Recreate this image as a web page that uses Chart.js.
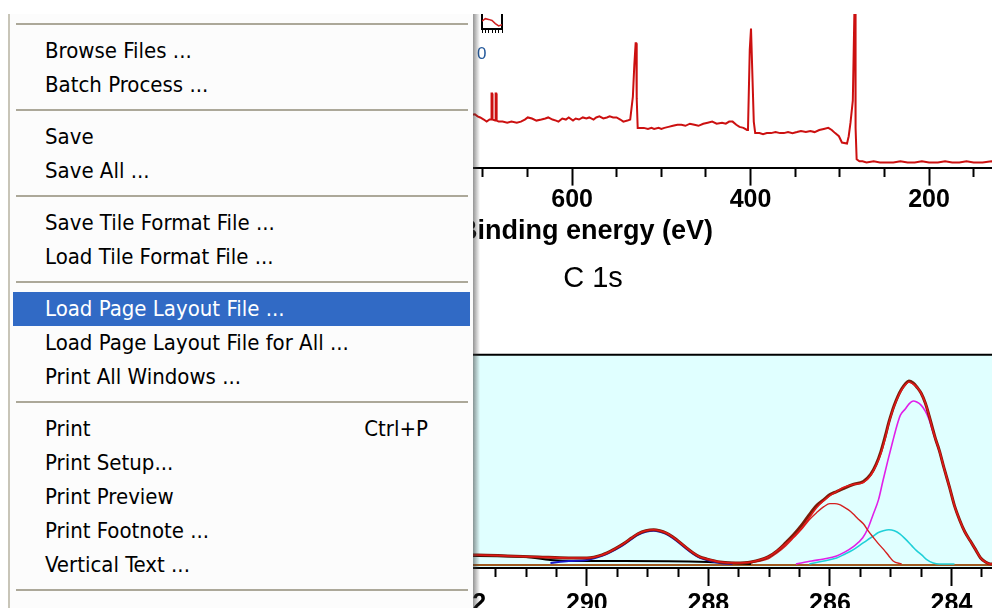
<!DOCTYPE html>
<html>
<head>
<meta charset="utf-8">
<title>XPS survey and C 1s</title>
<script src="https://cdn.jsdelivr.net/npm/chart.js@4.4.1/dist/chart.umd.min.js"></script>
<style>
  html, body { margin: 0; padding: 0; background: #fff; }
  body { width: 992px; height: 608px; overflow: hidden; position: relative; font-family: "Liberation Sans", Arial, sans-serif; }
  .box { position: absolute; }
  #surveyBox { left: 126px; top: 14px; width: 919px; height: 238px; }
  #c1sBox { left: 189px; top: 252px; width: 808px; height: 370px; }
  #insetBox { left: 474px; top: 14px; width: 36px; height: 19px; }
  #insetZero { position: absolute; left: 477px; top: 44px; font-size: 17px; color: #23589a; }
  #menu { position: absolute; left: 8px; top: 14px; width: 463px; height: 620px; background: #fcfcfc;
          border-left: 2px solid #c8c5b8; padding-top: 2px; z-index: 5;
          font-family: "DejaVu Sans Condensed", "DejaVu Sans", sans-serif; font-stretch: condensed; font-size: 22px; color: #000; }
  #menuShadow { position: absolute; left: 473px; top: 14px; width: 7px; height: 620px; z-index: 5;
                background: linear-gradient(to right, rgba(60,60,60,.55), rgba(60,60,60,0)); }
  .item { height: 34px; line-height: 34px; padding-left: 35px; padding-right: 45px; white-space: nowrap;
          display: flex; justify-content: space-between; }
  .item.hot { background: #316ac5; color: #fff; margin-left: 3px; margin-right: 3px; padding-left: 32px; }
  .sep { height: 18px; position: relative; }
  .sep::after { content: ""; position: absolute; left: 6px; right: 5px; top: 7px; height: 2px; background: #aca899; }
</style>
</head>
<body>

<div class="box" id="surveyBox"><canvas id="survey"></canvas></div>
<div class="box" id="c1sBox"><canvas id="c1s"></canvas></div>
<div class="box" id="insetBox"><canvas id="inset"></canvas></div>
<div id="insetZero">0</div>

<div id="menu">
  <div class="sep"></div>
  <div class="item"><span>Browse Files ...</span></div>
  <div class="item"><span>Batch Process ...</span></div>
  <div class="sep"></div>
  <div class="item"><span>Save</span></div>
  <div class="item"><span>Save All ...</span></div>
  <div class="sep"></div>
  <div class="item"><span>Save Tile Format File ...</span></div>
  <div class="item"><span>Load Tile Format File ...</span></div>
  <div class="sep"></div>
  <div class="item hot"><span>Load Page Layout File ...</span></div>
  <div class="item"><span>Load Page Layout File for All ...</span></div>
  <div class="item"><span>Print All Windows ...</span></div>
  <div class="sep"></div>
  <div class="item"><span>Print</span><span>Ctrl+P</span></div>
  <div class="item"><span>Print Setup...</span></div>
  <div class="item"><span>Print Preview</span></div>
  <div class="item"><span>Print Footnote ...</span></div>
  <div class="item"><span>Vertical Text ...</span></div>
  <div class="sep"></div>
</div>
<div id="menuShadow"></div>

<script>
// survey spectrum (binding energy in eV, counts in arbitrary units)
const surveyEnergy = [716, 709, 706, 703, 699, 695.8, 692.5, 690.6, 690.3, 689.7, 689.2, 686.2, 685.7, 685.1, 684.6,
  682.3, 678, 672.7, 668, 662, 657.4, 653, 649.7, 645, 640, 634.4, 630, 626.8, 622, 618, 615.3, 611, 607, 603.8,
  599, 596, 592.3, 588, 584, 580.8, 576, 573, 569.4, 565, 561, 557.9, 554, 550.2, 546, 542.6, 538, 534.9,
  531.9, 530.3, 528.8, 528.2, 527.6, 526.5, 523, 519.6, 515, 511, 508.1, 503, 500, 496.6, 492, 487, 482, 477.5,
  473, 468, 463, 458.4, 453, 448, 443, 438, 432, 427.7, 424, 420.1, 416, 412.4, 408, 404, 402.9,
  400.9, 399.5, 398.6, 396.4, 394.8, 390, 386, 381.8, 377, 372, 367, 362.7, 358, 353, 348, 343.5, 338, 333,
  328.2, 323, 318, 312.9, 309, 305.2, 301, 297.6, 291.9, 290, 288, 285.4, 283.4, 282.8, 282.3, 281.1, 278,
  274.6, 270, 262, 255, 247.8, 240, 232, 224, 216, 208, 200, 190, 182, 174, 166, 158, 150, 140, 130, 120,
  110, 100, 90, 80, 70];
const surveyCounts = [50, 51, 49, 48, 46, 44, 46, 46, 71, 71, 46, 45, 71, 71, 45,
  44, 44, 43, 44, 43, 44, 46, 48, 47, 45, 46, 47, 48, 46, 45, 44, 47, 46, 48,
  45, 47, 46, 48, 47, 48, 46, 48, 49, 47, 48, 49, 48, 48, 46, 44, 45, 46,
  68, 98, 119, 119, 66, 38, 38, 38, 37, 38, 37, 38, 37, 38, 39, 40, 41, 41,
  40, 42, 41, 40, 42, 43, 44, 42, 43, 42, 44, 44, 41, 39, 38, 36, 36,
  113, 133, 133, 44, 33, 33, 32, 33, 33, 34, 33, 33, 34, 33, 34, 35, 34, 35,
  34, 36, 37, 38, 36, 33, 30, 24, 23, 30, 43, 64, 160, 160, 38, 8, 6,
  6, 5, 6, 5, 5, 5, 6, 5, 5, 6, 5, 5, 6, 5, 5, 6, 5, 5, 6, 5,
  5, 5, 5, 5, 5];
const surveyLabelled = [1000, 800, 600, 400, 200];

// C 1s region
const envEnergy = [292.4, 291.8, 291.3, 290.8, 290.3, 290.0, 289.75, 289.54, 289.4, 289.26, 289.16, 289.03, 288.9,
  288.8, 288.7, 288.59, 288.48, 288.36, 288.25, 288.14, 288.03, 287.81, 287.55, 287.3, 287.02, 286.87, 286.73,
  286.6, 286.46, 286.34, 286.22, 286.1, 286.0, 285.89, 285.78, 285.62, 285.45, 285.33, 285.24, 285.16, 285.09,
  285.03, 284.98, 284.94, 284.88, 284.82, 284.76, 284.7, 284.63, 284.57, 284.5, 284.43, 284.37, 284.32, 284.26,
  284.2, 284.12, 284.03, 283.95, 283.86, 283.78, 283.69, 283.6, 283.52, 283.44, 283.36, 283.25];
const envelope = [9, 9, 8, 7, 6, 6, 9, 15, 20, 26, 30, 33, 34, 33, 31, 27, 22, 16, 11, 7, 5, 2, 1, 2, 7, 13,
  20, 27, 36, 46, 56, 63, 68, 72, 76, 79, 81, 88, 98, 110, 125, 140, 150, 157, 166, 173, 178, 181, 179, 176,
  170, 160, 148, 136, 124, 113, 95, 76, 58, 43, 32, 23, 14, 6, 2, 0, 0];
const rawCounts = [9, 9, 8, 7, 6, 6, 9, 15, 20, 26, 30, 33, 34, 33, 31, 27, 22, 16, 11, 7, 5, 2, 1, 2, 7, 13,
  21, 29, 39, 49, 58, 64, 69, 72, 75, 79, 82, 89, 99, 112, 127, 141, 151, 158, 167, 174, 179, 182, 180, 176,
  170, 160, 148, 137, 124, 113, 95, 76, 58, 43, 32, 23, 14, 6, 2, 0, 0];

const redEnergy = [287.3, 287.02, 286.87, 286.73, 286.6, 286.46, 286.34, 286.22, 286.1, 286.0, 285.92, 285.84,
  285.78, 285.7, 285.62, 285.54, 285.45, 285.37, 285.28, 285.2, 285.11, 285.03, 284.96, 284.82];
const redCounts = [1, 5, 11, 18, 26, 35, 44, 51, 57, 60, 60, 59, 57, 54, 50, 45, 40, 33, 26, 20, 14, 8, 3, 0];

const cyanEnergy = [286.34, 286.1, 285.89, 285.75, 285.62, 285.5, 285.38, 285.28, 285.21, 285.12, 285.03, 284.94,
  284.85, 284.76, 284.65, 284.57, 284.49, 284.4, 284.3, 284.2, 283.95];
const cyanCounts = [0, 3, 6, 10, 14, 19, 24, 28, 31, 33, 34, 33, 30, 25, 18, 13, 9, 4, 1, 0, 0];

const magEnergy = [286.56, 286.3, 286.1, 285.89, 285.75, 285.62, 285.46, 285.37, 285.29, 285.2, 285.13, 285.05,
  284.97, 284.9, 284.84, 284.76, 284.7, 284.63, 284.57, 284.5, 284.43, 284.37, 284.32, 284.26, 284.2, 284.12,
  284.03, 283.95, 283.86, 283.78, 283.69, 283.6, 283.52, 283.44, 283.36];
const magCounts = [0, 3, 5, 8, 12, 17, 26, 36, 49, 64, 82, 102, 121, 137, 148, 154, 159, 162, 161, 158, 152, 144,
  134, 123, 112, 95, 76, 58, 43, 32, 23, 14, 6, 2, 0];

const blueEnergy = [290.6, 290.3, 290.0, 289.75, 289.54, 289.4, 289.26, 289.16, 289.03, 288.9, 288.8, 288.7,
  288.59, 288.48, 288.36, 288.25, 288.14, 288.03, 287.81, 287.6];
const blueCounts = [1, 3, 4, 8, 14, 19, 25, 29, 32, 33, 32, 30, 26, 21, 15, 10, 6, 4, 1, 0];

const bgEnergy = [292.4, 291.8, 291.0, 290.6, 290.2, 289.4, 288.0, 287.6, 287.3];
const bgCounts = [8, 8, 7, 4, 3, 3, 2, 1, 0];

const baseEnergy = [296.5, 283.25];
const baseCounts = [-1, -1];

const c1sLabelled = [296, 294, 292, 290, 288, 286, 284];

// small inset in the corner of the survey tile
const insetX = [0, 1, 2, 3, 4, 5, 6];
const insetY = [5.2, 6.9, 6.4, 5.7, 3.6, 2.1, 2.9];

Chart.defaults.font.family = "'Liberation Sans', Arial, sans-serif";
Chart.defaults.color = '#000';

function pts(xs, ys) {
  return xs.map((x, i) => ({ x: x, y: ys[i] }));
}

function line(label, xs, ys, color, width, order, smooth) {
  return {
    label: label,
    data: pts(xs, ys),
    borderColor: color,
    borderWidth: width,
    pointRadius: 0,
    fill: false,
    order: order,
    cubicInterpolationMode: smooth ? 'monotone' : 'default',
    tension: 0
  };
}

// fills the plot area and draws its top frame line
const plotFill = {
  id: 'plotFill',
  beforeDraw(chart, args, opts) {
    if (!opts.color) return;
    const ctx = chart.ctx;
    const a = chart.chartArea;
    ctx.save();
    ctx.fillStyle = opts.color;
    ctx.fillRect(a.left, a.top, a.right - a.left, a.bottom - a.top);
    ctx.strokeStyle = opts.frame;
    ctx.lineWidth = 2;
    ctx.beginPath();
    ctx.moveTo(a.left, a.top);
    ctx.lineTo(a.right, a.top);
    ctx.stroke();
    ctx.restore();
  }
};

function energyAxis(min, max, step, labelled, title, labelPad) {
  return {
    type: 'linear',
    reverse: true,
    min: min,
    max: max,
    border: { color: '#000', width: 2 },
    grid: {
      drawOnChartArea: false,
      tickLength: 18,
      tickColor: '#000',
      tickWidth: 2,
      tickBorderDash: (c) => (c.tick && labelled.includes(c.tick.value)) ? [] : [8, 60]
    },
    ticks: {
      stepSize: step,
      autoSkip: false,
      maxRotation: 0,
      includeBounds: false,
      padding: labelPad,
      color: '#000',
      font: { size: 25, weight: 'bold' },
      callback: (v) => labelled.includes(v) ? String(v) : ''
    },
    title: {
      display: !!title,
      text: title || '',
      color: '#000',
      font: { size: 27, weight: 'bold' },
      padding: { top: 0, bottom: 4 }
    }
  };
}

new Chart(document.getElementById('survey'), {
  type: 'line',
  data: {
    datasets: [line('Survey', surveyEnergy, surveyCounts, '#cc1010', 2, 0, false)]
  },
  options: {
    responsive: true,
    maintainAspectRatio: false,
    animation: false,
    layout: { padding: 0 },
    plugins: { legend: { display: false }, tooltip: { enabled: false } },
    scales: {
      x: energyAxis(70, 1100, 50, surveyLabelled, 'Binding energy (eV)', 0),
      y: { display: false, min: 0, max: 147 }
    }
  }
});

new Chart(document.getElementById('c1s'), {
  type: 'line',
  data: {
    datasets: [
      line('Envelope', envEnergy, envelope, '#e01818', 1.6, 0, true),
      line('Data', envEnergy, rawCounts, '#7a1c08', 3, 1, true),
      line('C-O', redEnergy, redCounts, '#d42020', 1.4, 2, true),
      line('C-C', magEnergy, magCounts, '#e020e8', 1.6, 3, true),
      line('C-N', cyanEnergy, cyanCounts, '#20d0d8', 1.6, 4, true),
      line('O-C=O', blueEnergy, blueCounts, '#1818c8', 2, 5, true),
      line('Background', bgEnergy, bgCounts, '#000000', 2, 6, true),
      line('Baseline', baseEnergy, baseCounts, '#a05a20', 2, 7, false)
    ]
  },
  options: {
    responsive: true,
    maintainAspectRatio: false,
    animation: false,
    layout: { padding: 0 },
    plugins: {
      legend: { display: false },
      tooltip: { enabled: false },
      title: {
        display: true,
        text: 'C 1s',
        color: '#000',
        font: { size: 29, weight: 'normal' },
        padding: { top: 10, bottom: 58 }
      },
      plotFill: { color: '#e0ffff', frame: '#000' }
    },
    scales: {
      x: energyAxis(283.25, 296.5, 0.5, c1sLabelled, '', 3),
      y: { display: false, min: -4, max: 208 }
    }
  },
  plugins: [plotFill]
});

new Chart(document.getElementById('inset'), {
  type: 'line',
  data: {
    datasets: [line('Inset', insetX, insetY, '#d02020', 1.5, 0, false)]
  },
  options: {
    responsive: true,
    maintainAspectRatio: false,
    animation: false,
    layout: { padding: 0 },
    plugins: { legend: { display: false }, tooltip: { enabled: false } },
    scales: {
      x: {
        type: 'linear', min: 0, max: 6,
        border: { color: '#000', width: 2 },
        grid: { drawOnChartArea: false, tickLength: 4, tickColor: '#000', tickWidth: 1 },
        ticks: { display: false, stepSize: 1 }
      },
      y: {
        min: 0, max: 10,
        border: { color: '#000', width: 2 },
        grid: { display: false },
        ticks: { display: false }
      },
      y2: {
        position: 'right', min: 0, max: 10,
        border: { color: '#000', width: 2 },
        grid: { display: false },
        ticks: { display: false }
      }
    }
  }
});
</script>
</body>
</html>
